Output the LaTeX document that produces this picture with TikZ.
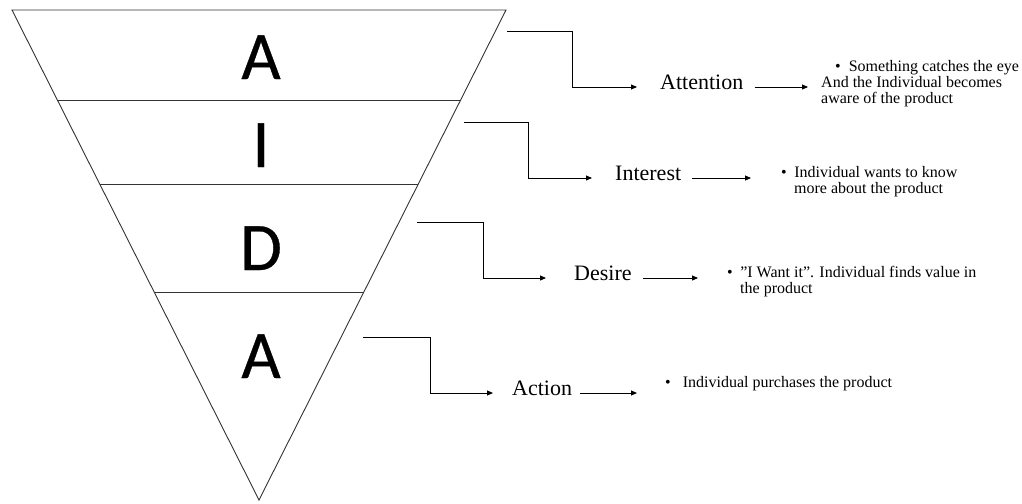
\documentclass[tikz,border=0pt]{standalone}
\usepackage{fontspec}
\setmainfont{Liberation Serif}
\newfontfamily\stagefont[FakeBold=0.5]{Carlito}
\usetikzlibrary{arrows.meta,calc}

\begin{document}
\begin{tikzpicture}[x=1pt,y=-1pt,
  funnel/.style={line width=0.9pt, draw=black!80, line join=miter},
  elbow/.style={line width=0.9pt, draw=black, -{Triangle[length=6pt,width=5pt]}},
  letter/.style={font=\stagefont\fontsize{68}{68}\selectfont, anchor=base, inner sep=0pt},
  stage/.style={font=\fontsize{22}{22}\selectfont, anchor=base west, inner sep=0pt},
  note/.style={font=\fontsize{16}{16}\selectfont, anchor=base west, inner sep=0pt}]
\useasboundingbox (0,0) rectangle (1022,503);

% the funnel and its bands
\coordinate (tl) at (12,10);
\coordinate (tr) at (506,10);
\coordinate (bt) at (259,500);
\draw[funnel] (tl) -- (tr) -- (bt) -- cycle;
\draw[funnel] ($(tl)!0.1837!(bt)$) -- ($(tr)!0.1837!(bt)$);
\draw[funnel] ($(tl)!0.3551!(bt)$) -- ($(tr)!0.3551!(bt)$);
\draw[funnel] ($(tl)!0.5755!(bt)$) -- ($(tr)!0.5755!(bt)$);

\node[letter] (la) at (261,79) {A};
\node[letter] (li) at (261,167) {I};
\node[letter] (ld) at (261,270) {D};
\node[letter] (lb) at (261,378) {A};

% stage labels
\node[stage] (att) at (660,89) {Attention};
\node[stage] (int) at (615,180) {Interest};
\node[stage] (des) at (574,280) {Desire};
\node[stage] (act) at (512,395) {Action};

% descriptions
\node[note] (n1a) at (835,71) {\textbullet\hspace{8pt}Something catches the eye};
\node[note] (n1b) at (821,87) {And the Individual becomes};
\node[note] (n1c) at (821,103) {aware of the product};
\node[note] (n2a) at (781,177) {\textbullet\hspace{7.5pt}Individual wants to know};
\node[note] (n2b) at (794,193) {more about the product};
\node[note] (n3a) at (727,277) {\textbullet\hspace{7.5pt}''I Want it''. Individual finds value in};
\node[note] (n3b) at (740,293) {the product};
\node[note] (n4a) at (665,387) {\textbullet\hspace{12pt}Individual purchases the product};

% elbow connectors from the funnel to the labels
\coordinate (s1) at (507,31);  \coordinate (k1) at (572,87);
\coordinate (s2) at (464,122); \coordinate (k2) at (528,178);
\coordinate (s3) at (417,222); \coordinate (k3) at (483,278);
\coordinate (s4) at (363,337); \coordinate (k4) at (430,393);

\draw[elbow, shorten >=23pt] (s1) -| (k1) -- (k1 -| att.west);
\draw[elbow, shorten >=23pt] (s2) -| (k2) -- (k2 -| int.west);
\draw[elbow, shorten >=28pt] (s3) -| (k3) -- (k3 -| des.west);
\draw[elbow, shorten >=19pt] (s4) -| (k4) -- (k4 -| act.west);

% arrows from the labels to the descriptions
\draw[elbow, shorten <=11pt, shorten >=27pt] (k1 -| att.east) -- (k1 -| n1a.west);
\draw[elbow, shorten <=11pt, shorten >=30pt] (k2 -| int.east) -- (k2 -| n2a.west);
\draw[elbow, shorten <=11pt, shorten >=29pt] (k3 -| des.east) -- (k3 -| n3a.west);
\draw[elbow, shorten <=8pt, shorten >=28pt] (k4 -| act.east) -- (k4 -| n4a.west);
\end{tikzpicture}
\end{document}
